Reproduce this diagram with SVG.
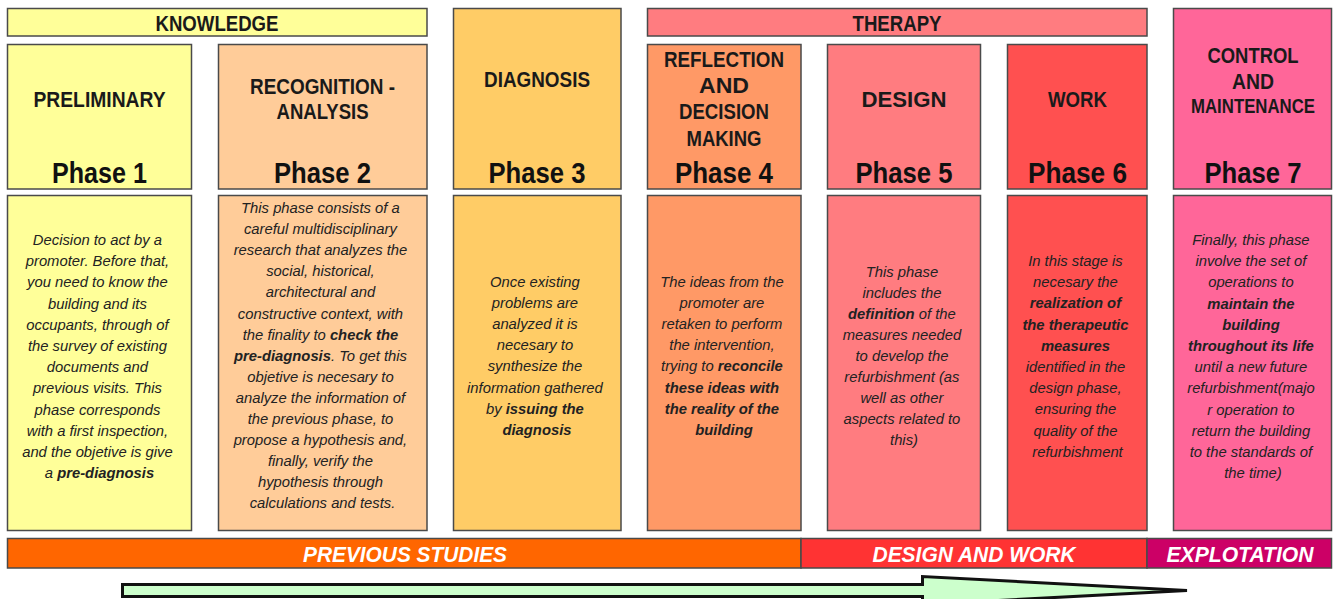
<svg xmlns="http://www.w3.org/2000/svg" width="1335" height="599" viewBox="0 0 1335 599">
<style>
.box{stroke:#4a4a4a;stroke-width:1.5}
.title{font-family:"Liberation Sans",Arial,sans-serif;font-weight:bold;font-size:22px;fill:#1a1a1a;text-anchor:middle}
.phase{font-family:"Liberation Sans",Arial,sans-serif;font-weight:bold;font-size:30px;fill:#111;text-anchor:middle}
.body{font-family:"Liberation Sans",Arial,sans-serif;font-style:italic;font-size:14.8px;fill:#222;text-anchor:middle}
.b{font-weight:bold}
.bar{font-family:"Liberation Sans",Arial,sans-serif;font-weight:bold;font-style:italic;font-size:22px;fill:#fff;text-anchor:middle}
.c1{fill:#FFFF99}.c2{fill:#FFCC99}.c3{fill:#FFCC66}.c4{fill:#FF9966}.c5{fill:#FF7C80}.c6{fill:#FF5050}.c7{fill:#FF6699}
</style>
<rect width="1335" height="599" fill="#fff"/>

<g id="knowledge">
<rect class="box c1" x="7.5" y="8.5" width="419.5" height="27.5"/>
<text class="title" x="217" y="31" textLength="123" lengthAdjust="spacingAndGlyphs">KNOWLEDGE</text>
</g>
<g id="therapy">
<rect class="box c5" x="647.5" y="8.5" width="499.5" height="27.5"/>
<text class="title" x="897" y="31" textLength="89" lengthAdjust="spacingAndGlyphs">THERAPY</text>
</g>

<g id="phase1">
<rect class="box c1" x="7.5" y="44.5" width="184" height="144.5"/>
<text class="title" x="99.5" y="107" textLength="132" lengthAdjust="spacingAndGlyphs">PRELIMINARY</text>
<text class="phase" x="99.5" y="183" textLength="95" lengthAdjust="spacingAndGlyphs">Phase 1</text>
<rect class="box c1" x="7.5" y="195.5" width="184" height="335"/>
<text class="body">
<tspan x="99.5" y="245">Decision to act by a</tspan>
<tspan x="99.5" dy="21.2">promoter. Before that,</tspan>
<tspan x="99.5" dy="21.2">you need to know the</tspan>
<tspan x="99.5" dy="21.2">building and its</tspan>
<tspan x="99.5" dy="21.2">occupants, through of</tspan>
<tspan x="99.5" dy="21.2">the survey of existing</tspan>
<tspan x="99.5" dy="21.2">documents and</tspan>
<tspan x="99.5" dy="21.2">previous visits. This</tspan>
<tspan x="99.5" dy="21.2">phase corresponds</tspan>
<tspan x="99.5" dy="21.2">with a first inspection,</tspan>
<tspan x="99.5" dy="21.2">and the objetive is give</tspan>
<tspan x="99.5" dy="21.2">a <tspan class="b">pre-diagnosis</tspan></tspan>
</text>
</g>

<g id="phase2">
<rect class="box c2" x="218.5" y="44.5" width="208.5" height="144.5"/>
<text class="title" x="322.5" y="94" textLength="145" lengthAdjust="spacingAndGlyphs">RECOGNITION -</text>
<text class="title" x="322.5" y="119" textLength="92" lengthAdjust="spacingAndGlyphs">ANALYSIS</text>
<text class="phase" x="322.5" y="183" textLength="97" lengthAdjust="spacingAndGlyphs">Phase 2</text>
<rect class="box c2" x="218.5" y="195.5" width="208.5" height="335"/>
<text class="body">
<tspan x="322.5" y="213">This phase consists of a</tspan>
<tspan x="322.5" dy="21.1">careful multidisciplinary</tspan>
<tspan x="322.5" dy="21.1">research that analyzes the</tspan>
<tspan x="322.5" dy="21.1">social, historical,</tspan>
<tspan x="322.5" dy="21.1">architectural and</tspan>
<tspan x="322.5" dy="21.1">constructive context, with</tspan>
<tspan x="322.5" dy="21.1">the finality to <tspan class="b">check the</tspan></tspan>
<tspan x="322.5" dy="21.1"><tspan class="b">pre-diagnosis</tspan>. To get this</tspan>
<tspan x="322.5" dy="21.1">objetive is necesary to</tspan>
<tspan x="322.5" dy="21.1">analyze the information of</tspan>
<tspan x="322.5" dy="21.1">the previous phase, to</tspan>
<tspan x="322.5" dy="21.1">propose a hypothesis and,</tspan>
<tspan x="322.5" dy="21.1">finally, verify the</tspan>
<tspan x="322.5" dy="21.1">hypothesis through</tspan>
<tspan x="322.5" dy="21.1">calculations and tests.</tspan>
</text>
</g>

<g id="phase3">
<rect class="box c3" x="453.5" y="8.5" width="167.5" height="180.5"/>
<text class="title" x="537" y="87" textLength="106" lengthAdjust="spacingAndGlyphs">DIAGNOSIS</text>
<text class="phase" x="537" y="183" textLength="97" lengthAdjust="spacingAndGlyphs">Phase 3</text>
<rect class="box c3" x="453.5" y="195.5" width="167.5" height="335"/>
<text class="body">
<tspan x="537" y="287">Once existing</tspan>
<tspan x="537" dy="21.1">problems are</tspan>
<tspan x="537" dy="21.1">analyzed it is</tspan>
<tspan x="537" dy="21.1">necesary to</tspan>
<tspan x="537" dy="21.1">synthesize the</tspan>
<tspan x="537" dy="21.1">information gathered</tspan>
<tspan x="537" dy="21.1">by <tspan class="b">issuing the</tspan></tspan>
<tspan x="537" dy="21.1" class="b">diagnosis</tspan>
</text>
</g>

<g id="phase4">
<rect class="box c4" x="647.5" y="44.5" width="153.5" height="144.5"/>
<text class="title" x="724" y="67" textLength="120" lengthAdjust="spacingAndGlyphs">REFLECTION</text>
<text class="title" x="724" y="93" textLength="50" lengthAdjust="spacingAndGlyphs">AND</text>
<text class="title" x="724" y="119" textLength="90" lengthAdjust="spacingAndGlyphs">DECISION</text>
<text class="title" x="724" y="146" textLength="75" lengthAdjust="spacingAndGlyphs">MAKING</text>
<text class="phase" x="724" y="183" textLength="98" lengthAdjust="spacingAndGlyphs">Phase 4</text>
<rect class="box c4" x="647.5" y="195.5" width="153.5" height="335"/>
<text class="body">
<tspan x="724" y="287">The ideas from the</tspan>
<tspan x="724" dy="21.1">promoter are</tspan>
<tspan x="724" dy="21.1">retaken to perform</tspan>
<tspan x="724" dy="21.1">the intervention,</tspan>
<tspan x="724" dy="21.1">trying to <tspan class="b">reconcile</tspan></tspan>
<tspan x="724" dy="21.1" class="b">these ideas with</tspan>
<tspan x="724" dy="21.1" class="b">the reality of the</tspan>
<tspan x="724" dy="21.1" class="b">building</tspan>
</text>
</g>

<g id="phase5">
<rect class="box c5" x="827.5" y="44.5" width="153" height="144.5"/>
<text class="title" x="904" y="107" textLength="85" lengthAdjust="spacingAndGlyphs">DESIGN</text>
<text class="phase" x="904" y="183" textLength="97" lengthAdjust="spacingAndGlyphs">Phase 5</text>
<rect class="box c5" x="827.5" y="195.5" width="153" height="335"/>
<text class="body">
<tspan x="904" y="277">This phase</tspan>
<tspan x="904" dy="21">includes the</tspan>
<tspan x="904" dy="21"><tspan class="b">definition</tspan> of the</tspan>
<tspan x="904" dy="21">measures needed</tspan>
<tspan x="904" dy="21">to develop the</tspan>
<tspan x="904" dy="21">refurbishment (as</tspan>
<tspan x="904" dy="21">well as other</tspan>
<tspan x="904" dy="21">aspects related to</tspan>
<tspan x="904" dy="21">this)</tspan>
</text>
</g>

<g id="phase6">
<rect class="box c6" x="1007.5" y="44.5" width="139.5" height="144.5"/>
<text class="title" x="1077.5" y="107" textLength="59" lengthAdjust="spacingAndGlyphs">WORK</text>
<text class="phase" x="1077.5" y="183" textLength="99" lengthAdjust="spacingAndGlyphs">Phase 6</text>
<rect class="box c6" x="1007.5" y="195.5" width="139.5" height="335"/>
<text class="body">
<tspan x="1077.5" y="266">In this stage is</tspan>
<tspan x="1077.5" dy="21.2">necesary the</tspan>
<tspan x="1077.5" dy="21.2" class="b">realization of</tspan>
<tspan x="1077.5" dy="21.2" class="b">the therapeutic</tspan>
<tspan x="1077.5" dy="21.2" class="b">measures</tspan>
<tspan x="1077.5" dy="21.2">identified in the</tspan>
<tspan x="1077.5" dy="21.2">design phase,</tspan>
<tspan x="1077.5" dy="21.2">ensuring the</tspan>
<tspan x="1077.5" dy="21.2">quality of the</tspan>
<tspan x="1077.5" dy="21.2">refurbishment</tspan>
</text>
</g>

<g id="phase7">
<rect class="box c7" x="1173.5" y="8.5" width="158" height="180.5"/>
<text class="title" x="1253" y="63" textLength="91" lengthAdjust="spacingAndGlyphs">CONTROL</text>
<text class="title" x="1253" y="89" textLength="42" lengthAdjust="spacingAndGlyphs">AND</text>
<text class="title" x="1253" y="113" style="font-size:19.5px" textLength="124" lengthAdjust="spacingAndGlyphs">MAINTENANCE</text>
<text class="phase" x="1253" y="183" textLength="97" lengthAdjust="spacingAndGlyphs">Phase 7</text>
<rect class="box c7" x="1173.5" y="195.5" width="158" height="335"/>
<text class="body">
<tspan x="1253" y="245">Finally, this phase</tspan>
<tspan x="1253" dy="21.2">involve the set of</tspan>
<tspan x="1253" dy="21.2">operations to</tspan>
<tspan x="1253" dy="21.2" class="b">maintain the</tspan>
<tspan x="1253" dy="21.2" class="b">building</tspan>
<tspan x="1253" dy="21.2" class="b">throughout its life</tspan>
<tspan x="1253" dy="21.2">until a new future</tspan>
<tspan x="1253" dy="21.2">refurbishment(majo</tspan>
<tspan x="1253" dy="21.2">r operation to</tspan>
<tspan x="1253" dy="21.2">return the building</tspan>
<tspan x="1253" dy="21.2">to the standards of</tspan>
<tspan x="1253" dy="21.2">the time)</tspan>
</text>
</g>

<g id="stage-previous-studies">
<rect class="box" fill="#FF6600" x="7.5" y="538.5" width="793.5" height="29.5"/>
<text class="bar" x="405" y="562" textLength="204" lengthAdjust="spacingAndGlyphs">PREVIOUS STUDIES</text>
</g>
<g id="stage-design-work">
<rect class="box" fill="#FF3333" x="801" y="538.5" width="346" height="29.5"/>
<text class="bar" x="974" y="562" textLength="203" lengthAdjust="spacingAndGlyphs">DESIGN AND WORK</text>
</g>
<g id="stage-explotation">
<rect class="box" fill="#CC0066" x="1147" y="538.5" width="184.5" height="29.5"/>
<text class="bar" x="1240" y="562" textLength="147" lengthAdjust="spacingAndGlyphs">EXPLOTATION</text>
</g>

<g id="connectors">
<path d="M122.5,584.5 H922.5 V576.5 L1187,590.5 L922.5,604.5 V596.5 H122.5 Z" fill="#CCFFCC" stroke="#111" stroke-width="3" stroke-linejoin="miter"/>
</g>
</svg>
